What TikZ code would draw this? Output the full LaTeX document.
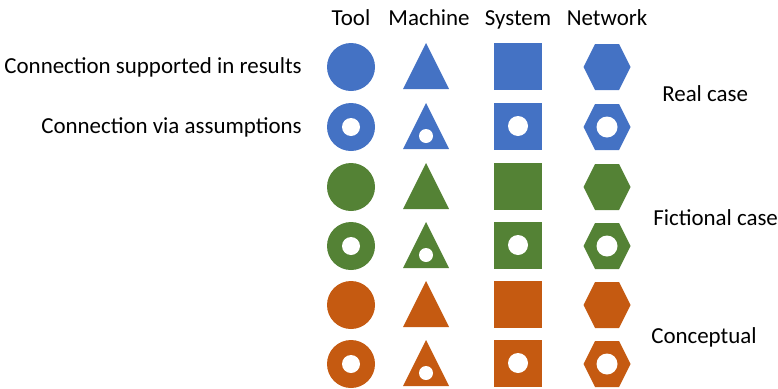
\documentclass[tikz,border=0pt]{standalone}
\usepackage{fontspec}
\setmainfont{Carlito}
\usepackage{tikz}
\definecolor{realblue}{HTML}{4472C4}
\definecolor{fictgreen}{HTML}{548235}
\definecolor{conceptorange}{HTML}{C55A11}
\tikzset{
  labeltext/.style={font=\fontsize{16.3}{19}\selectfont, inner sep=0pt},
  header/.style={labeltext, anchor=base},
  rowlabel/.style={labeltext, anchor=base east},
  caselabel/.style={labeltext, anchor=base west}
}

\begin{document}
\begin{tikzpicture}[x=0.025cm,y=-0.025cm]
    \useasboundingbox (0,0) rectangle (778,389);
    % column headings
    \node[header] (tool) at (351,25) {Tool};
    \node[header] (machine) at (429,25) {Machine};
    \node[header] (system) at (518,25) {System};
    \node[header] (network) at (607,25) {Network};
    % legend on the left
    \node[rowlabel] (supported) at (302,73) {Connection supported in results};
    \node[rowlabel] (assumed) at (302,133) {Connection via assumptions};
    % cases on the right
    \node[caselabel] (real) at (662,101) {Real case};
    \node[caselabel] (fictional) at (653,225) {Fictional case};
    \node[caselabel] (conceptual) at (651,343) {Conceptual};
    % one row of shapes per line
    \foreach \y/\col in {67/realblue,127/realblue,187/fictgreen,246/fictgreen,305/conceptorange,364/conceptorange}{
        \fill[\col] (351,\y) circle (24);
        \fill[\col] (403,\y+22) -- (426,\y-24) -- (449,\y+22) -- cycle;
        \fill[\col] (494,\y-24) rectangle (542,\y+23);
        \fill[\col] (583.5,\y) -- (595,\y-23) -- (619,\y-23) -- (630.5,\y)
            -- (619,\y+23) -- (595,\y+23) -- cycle;
    }
    % holes for the assumed connections
    \foreach \y in {127,246,364}{
        \fill[white] (351,\y) circle (9);
        \fill[white] (426,\y+9) circle (7);
        \fill[white] (518,\y-1) circle (10);
        \fill[white] (607,\y) circle (10.5);
    }
\end{tikzpicture}
\end{document}
